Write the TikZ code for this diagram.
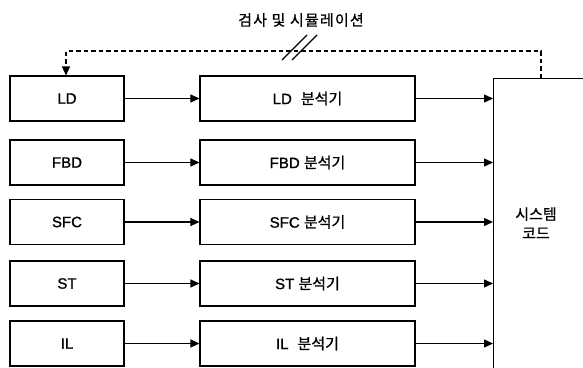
\documentclass[tikz,border=0pt]{standalone}
\usepackage{fontspec}
\setmainfont{Liberation Sans}[FakeBold=1.2]
\newfontfamily\kr{Noto Sans CJK KR}[FakeBold=0.8]
\usetikzlibrary{arrows.meta}
\begin{document}
\begin{tikzpicture}[x=1pt,y=-1pt,
  lbox/.style={draw,line width=1.1pt,minimum width=114pt,minimum height=45pt,inner sep=0pt,font=\fontsize{15}{16}\selectfont},
  mbox/.style={draw,line width=1.1pt,minimum width=215pt,minimum height=45pt,inner sep=0pt,font=\fontsize{15}{16}\selectfont},
  arr/.style={line width=1.3pt,-{Triangle[length=9pt,width=8pt]}},
  dsh/.style={line width=1.2pt,dash pattern=on 4.5pt off 3pt},
  krtxt/.style={font=\kr\fontsize{15}{19}\selectfont}
]
\useasboundingbox (0,0) rectangle (583,367);
\begin{scope}
\clip (0,0) rectangle (583,367);
\node[draw,line width=1.2pt,anchor=north west,minimum width=200pt,minimum height=400pt,inner sep=0pt] (sys) at (493,78) {};
\end{scope}
\node[krtxt,align=center] (syslabel) at (536,223) {시스템\\코드};

\node[lbox] (ld)  at (67,98.5)  {LD};
\node[lbox] (fbd) at (67,162.5) {FBD};
\node[lbox] (sfc) at (67,222)   {SFC};
\node[lbox] (st)  at (67,283.5) {ST};
\node[lbox] (il)  at (67,343.5) {IL};

\node[mbox] (ldm)  at (307.5,98.5)  {LD\hspace{0.6em}{\kr 분석기}};
\node[mbox] (fbdm) at (307.5,162.5) {FBD {\kr 분석기}};
\node[mbox] (sfcm) at (307.5,222)   {SFC {\kr 분석기}};
\node[mbox] (stm)  at (307.5,283.5) {ST {\kr 분석기}};
\node[mbox] (ilm)  at (307.5,343.5) {IL\hspace{0.6em}{\kr 분석기}};

\foreach \a/\b in {ld/ldm,fbd/fbdm,sfc/sfcm,st/stm,il/ilm}{
  \draw[arr] (\a.east) -- (\b.west);
  \draw[arr] (\b.east) -- (sys.west |- \b.east);
}

\coordinate (dstart) at (541,78);
\draw[dsh,-{Triangle[length=9pt,width=8pt]}] (dstart) -- (541,51) -- (66,51) -- (ld.north -| 66,0);

\node[font=\kr\fontsize{15}{16}\selectfont\addfontfeatures{LetterSpace=8}] (title) at (301,20) {검사 및 시뮬레이션};
\draw[line width=1.1pt] (282,60) -- (307,35);
\draw[line width=1.1pt] (292,60) -- (317,35);
\end{tikzpicture}
\end{document}
